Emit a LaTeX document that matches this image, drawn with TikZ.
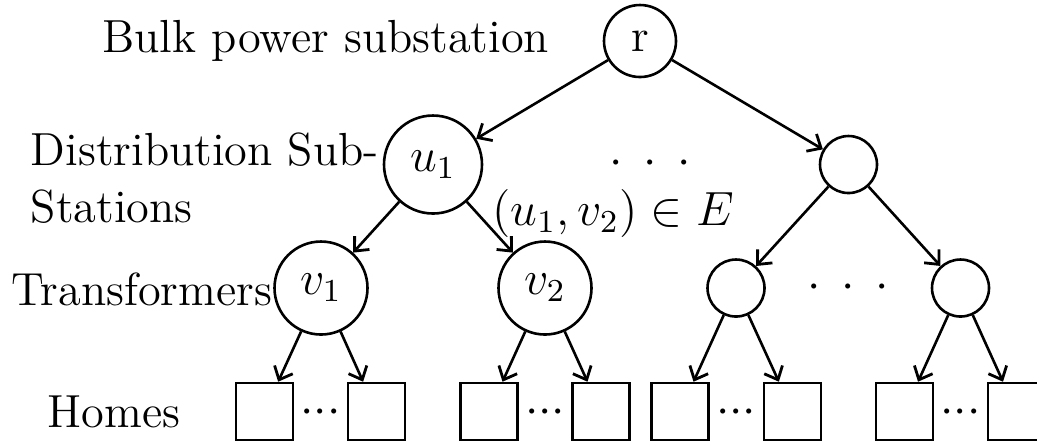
\documentclass[tikz,border=0pt]{standalone}
\usetikzlibrary{arrows.meta}
\begin{document}
\begin{tikzpicture}[x=0.25pt,y=-0.25pt,
  every node/.style={font=\fontsize{11.6}{14.25}\selectfont},
  treecirc/.style={circle,draw,line width=0.65pt,inner sep=0pt},
  home/.style={rectangle,draw,line width=0.65pt,minimum size=14.25pt,inner sep=0pt},
  link/.style={-{Straight Barb[length=2.8pt,width=5pt,line width=0.7pt]},line width=0.65pt},
  lbl/.style={inner sep=0pt}]
\useasboundingbox (0,0) rectangle (1037,444);
% level 1
\node[treecirc,minimum size=18pt] (r) at (640,41) {r};
% level 2
\node[treecirc,minimum size=24.5pt] (u1) at (433,164.5) {$u_1$};
\node[treecirc,minimum size=14.25pt] (w) at (848.5,164.5) {};
% level 3
\node[treecirc,minimum size=23.25pt] (v1) at (321,288) {$v_1$};
\node[treecirc,minimum size=23.25pt] (v2) at (545,288) {$v_2$};
\node[treecirc,minimum size=14.25pt] (w1) at (736,288) {};
\node[treecirc,minimum size=14.25pt] (w2) at (960.5,288) {};
% level 4
\node[home] (h1) at (264.5,411.5) {};
\node[home] (h2) at (376.5,411.5) {};
\node[home] (h3) at (489,411.5) {};
\node[home] (h4) at (601,411.5) {};
\node[home] (h5) at (680,411.5) {};
\node[home] (h6) at (792.5,411.5) {};
\node[home] (h7) at (904.5,411.5) {};
\node[home] (h8) at (1016.5,411.5) {};
% edges
\draw[link] (r) -- (u1);
\draw[link] (r) -- (w);
\draw[link] (u1) -- (v1);
\draw[link] (u1) -- (v2);
\draw[link] (w) -- (w1);
\draw[link] (w) -- (w2);
\draw[link] (v1) -- (h1);
\draw[link] (v1) -- (h2);
\draw[link] (v2) -- (h3);
\draw[link] (v2) -- (h4);
\draw[link] (w1) -- (h5);
\draw[link] (w1) -- (h6);
\draw[link] (w2) -- (h7);
\draw[link] (w2) -- (h8);
% dots
\node[lbl] (dtop) at (650,164) {${\cdot}\kern5.2pt{\cdot}\kern5.2pt{\cdot}$};
\node[lbl] (dmid) at (848,288) {${\cdot}\kern5.2pt{\cdot}\kern5.2pt{\cdot}$};
\node[lbl] (dh1) at (320.5,412.5) {${\cdot}{\cdot}{\cdot}$};
\node[lbl] (dh2) at (545,412.5) {${\cdot}{\cdot}{\cdot}$};
\node[lbl] (dh3) at (736,412.5) {${\cdot}{\cdot}{\cdot}$};
\node[lbl] (dh4) at (960.5,412.5) {${\cdot}{\cdot}{\cdot}$};
% edge label
\node[lbl] (elbl) at (613,213) {$(u_1,v_2)\in E$};
% level labels
\node[lbl,anchor=base east] (tbulk) at (550,52) {Bulk power substation};
\node[lbl,anchor=north west,align=left] (tdist) at (30,132) {Distribution Sub-\\Stations};
\node[lbl,anchor=base west] (ttrans) at (11,305) {Transformers};
\node[lbl,anchor=base west] (thomes) at (47,427) {Homes};
\end{tikzpicture}
\end{document}
